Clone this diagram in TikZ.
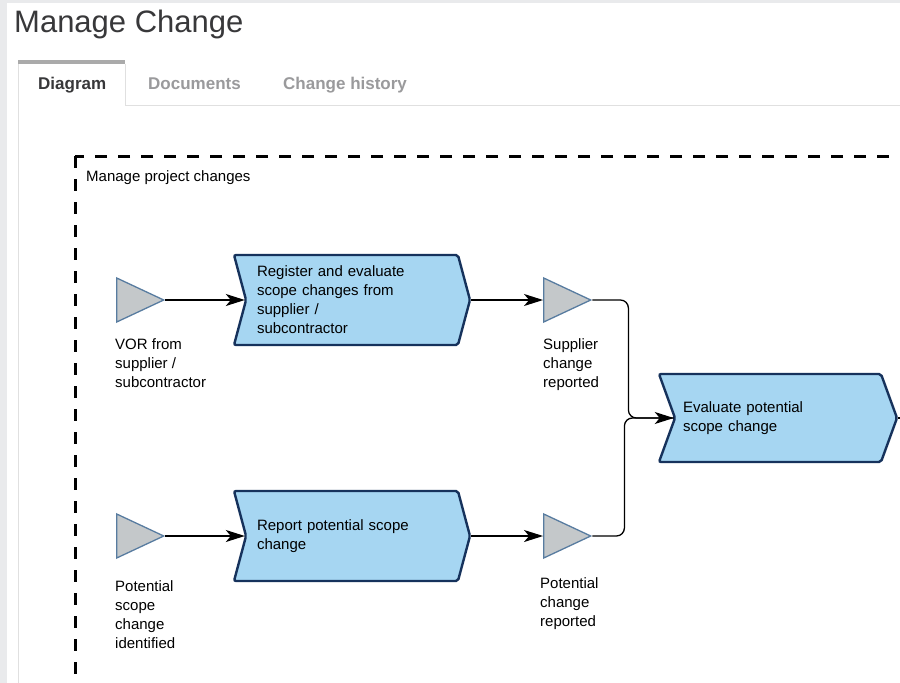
\documentclass[tikz,border=0pt]{standalone}
\usepackage{fontspec}
\setmainfont{Liberation Sans}
\usetikzlibrary{shapes.geometric, shapes.symbols, arrows.meta}
\definecolor{pageGray}{RGB}{233,234,236}
\definecolor{titleGray}{RGB}{56,56,58}
\definecolor{tabGray}{RGB}{154,154,156}
\definecolor{tabBar}{RGB}{170,170,170}
\definecolor{tabLine}{RGB}{224,224,224}
\definecolor{stepFill}{RGB}{166,214,242}
\definecolor{stepLine}{RGB}{22,50,92}
\definecolor{eventFill}{RGB}{196,200,202}
\definecolor{eventLine}{RGB}{88,124,160}

\begin{document}
\begin{tikzpicture}
[x=1pt, y=-1pt,
 every node/.style={align=left, inner sep=0pt},
 nodeTab/.style={anchor=base west, font=\bfseries\fontsize{17}{17}\selectfont},
 nodeStep/.style={signal, signal from=west, signal to=east,
   signal pointer angle=150, fill=stepFill, draw=stepLine, line width=2.4pt,
   rounded corners=2pt, minimum width=236pt, minimum height=90pt,
   text width=190pt, font=\fontsize{15}{19}\selectfont},
 nodeEvent/.style={isosceles triangle, isosceles triangle stretches,
   fill=eventFill, draw=eventLine, line width=1.3pt,
   minimum width=44pt, minimum height=47pt},
 nodeLabel/.style={anchor=north west, font=\fontsize{15}{19}\selectfont},
 flow/.style={line width=1.3pt, -{Stealth[length=19pt, width=12pt, inset=5pt]}}
]
% page and tabs
\fill[pageGray] (0,0) rectangle (900,683);
\useasboundingbox (0,0) rectangle (900,683);
\clip (0,0) rectangle (900,683);
\fill[white] (7,3) rectangle (900,683);
\node[anchor=base west, text=titleGray, font=\fontsize{31}{31}\selectfont]
  (title) at (14,32) {Manage Change};
\fill[tabBar] (18,60) rectangle (125,64);
\draw[tabLine] (18,64) -- (18,683);
\draw[tabLine] (125,64) -- (125,105) -- (900,105);
\node[nodeTab, text=titleGray] (tabDiagram) at (38,89) {Diagram};
\node[nodeTab, text=tabGray]   (tabDocs)    at (148,89) {Documents};
\node[nodeTab, text=tabGray]   (tabHistory) at (283,89) {Change history};
% process group
\draw[line width=3pt, dash pattern=on 12pt off 11pt] (75,156) rectangle (930,720);
\node[anchor=base west, font=\fontsize{15}{15}\selectfont]
  (group) at (86,181) {Manage project changes};
\node[nodeEvent] (E1) at (130.7,300) {};
\node[nodeEvent] (E2) at (557.7,300) {};
\node[nodeEvent] (E3) at (130.7,536) {};
\node[nodeEvent] (E4) at (557.7,536) {};
\node[nodeStep] (S1) at (352,300)
  {Register and evaluate\\scope changes from\\supplier /\\subcontractor};
\node[nodeStep] (S2) at (352,536) {Report potential scope\\change};
\node[nodeStep, minimum width=238pt, minimum height=88pt,
  signal pointer angle=140] (S3) at (778,418) {Evaluate potential\\scope change};
\node[nodeLabel] (L1) at (115,338) {VOR from\\supplier /\\subcontractor};
\node[nodeLabel] (L2) at (543,338) {Supplier\\change\\reported};
\node[nodeLabel] (L3) at (115,580) {Potential\\scope\\change\\identified};
\node[nodeLabel] (L4) at (540,577) {Potential\\change\\reported};
\draw[flow] (E1.apex) -- (S1.west);
\draw[flow] (S1.east) -- (E2.west);
\draw[flow] (E3.apex) -- (S2.west);
\draw[flow] (S2.east) -- (E4.west);
\draw[flow, rounded corners=8pt] (E2.apex) -- ++(36,0) |- (S3.west);
\draw[line width=1.3pt, rounded corners=8pt] (E4.apex) -- ++(32,0) |- (S3.west);
\draw[line width=1.3pt] (S3.east) -- ++(12,0);
\end{tikzpicture}
\end{document}
